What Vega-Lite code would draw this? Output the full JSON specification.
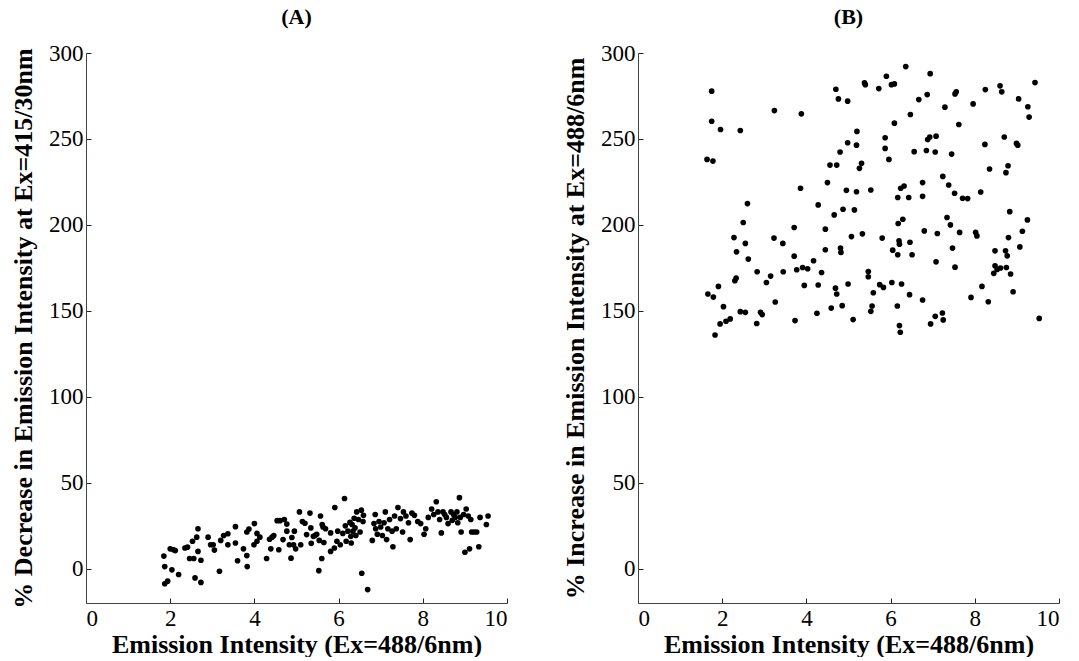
{
  "$schema": "https://vega.github.io/schema/vega-lite/v6.json",
  "padding": {"left": 10, "top": 6, "right": 5, "bottom": 0},
  "background": "white",
  "spacing": 54,
  "datasets": {
    "A": [
      {"x":1.85,"y":7.3},{"x":1.87,"y":1.2},{"x":1.87,"y":-8.8},{"x":1.94,"y":-7.3},{"x":2.0,"y":11.5},{"x":2.04,"y":-0.7},{"x":2.08,"y":11},{"x":2.12,"y":10.5},{"x":2.2,"y":-3.4},{"x":2.35,"y":12},
      {"x":2.41,"y":12.5},{"x":2.46,"y":5.9},{"x":2.53,"y":15.9},{"x":2.56,"y":5.9},{"x":2.59,"y":-5.4},{"x":2.63,"y":18.3},{"x":2.66,"y":23.2},{"x":2.66,"y":10},{"x":2.73,"y":4.9},{"x":2.73,"y":-8},
      {"x":2.9,"y":18.3},{"x":2.96,"y":13.9},{"x":3.02,"y":13.9},{"x":3.05,"y":10.8},{"x":3.17,"y":-1.5},{"x":3.2,"y":16.4},{"x":3.27,"y":19.3},{"x":3.37,"y":20.3},{"x":3.37,"y":13.9},{"x":3.55,"y":24.4},
      {"x":3.55,"y":14.9},{"x":3.6,"y":4.6},{"x":3.74,"y":11.5},{"x":3.82,"y":7.6},{"x":3.83,"y":1.2},{"x":3.82,"y":21.3},{"x":3.87,"y":23},{"x":3.99,"y":13.9},{"x":4.0,"y":26.2},{"x":4.06,"y":20.5},
      {"x":4.06,"y":15.9},{"x":4.13,"y":18.3},{"x":4.29,"y":5.9},{"x":4.36,"y":17.1},{"x":4.39,"y":11.5},{"x":4.42,"y":18.3},{"x":4.46,"y":19.3},{"x":4.54,"y":27.9},{"x":4.58,"y":11},{"x":4.61,"y":27.9},
      {"x":4.68,"y":16.9},{"x":4.71,"y":28.6},{"x":4.77,"y":25.9},{"x":4.77,"y":21.8},{"x":4.83,"y":13.9},{"x":4.87,"y":6.1},{"x":4.89,"y":18.1},{"x":4.95,"y":21.8},{"x":4.98,"y":11.5},{"x":4.93,"y":13.9},
      {"x":5.07,"y":33},{"x":5.1,"y":13.9},{"x":5.14,"y":27.4},{"x":5.2,"y":26.4},{"x":5.24,"y":19.8},{"x":5.34,"y":23.7},{"x":5.32,"y":32.3},{"x":5.35,"y":14.7},{"x":5.4,"y":18.8},{"x":5.44,"y":19.3},
      {"x":5.48,"y":20},{"x":5.53,"y":-1.2},{"x":5.54,"y":16.4},{"x":5.57,"y":30.6},{"x":5.61,"y":25.7},{"x":5.6,"y":5.9},{"x":5.63,"y":24.2},{"x":5.65,"y":15.2},{"x":5.69,"y":23.2},{"x":5.81,"y":20.8},
      {"x":5.81,"y":10},{"x":5.9,"y":12},{"x":5.91,"y":35.5},{"x":5.96,"y":15.9},{"x":5.98,"y":21.8},{"x":6.04,"y":13.9},{"x":6.14,"y":40.8},{"x":6.1,"y":20.5},{"x":6.16,"y":24.9},{"x":6.18,"y":15.9},
      {"x":6.22,"y":21.8},{"x":6.27,"y":26.9},{"x":6.29,"y":18.8},{"x":6.3,"y":14.9},{"x":6.32,"y":25.7},{"x":6.34,"y":21.8},{"x":6.37,"y":29.3},{"x":6.39,"y":23.7},{"x":6.41,"y":19.3},{"x":6.43,"y":33},
      {"x":6.47,"y":28.6},{"x":6.51,"y":21.3},{"x":6.54,"y":34},{"x":6.55,"y":-2.7},{"x":6.58,"y":27.4},{"x":6.59,"y":31},{"x":6.69,"y":-12.2},{"x":6.8,"y":16.4},{"x":6.84,"y":26.2},{"x":6.87,"y":31.5},
      {"x":6.88,"y":23.2},{"x":6.92,"y":20},{"x":6.96,"y":27.4},{"x":7.0,"y":24.2},{"x":7.04,"y":19.3},{"x":7.08,"y":26.7},{"x":7.11,"y":33},{"x":7.14,"y":16.9},{"x":7.17,"y":23.2},{"x":7.21,"y":28.6},
      {"x":7.27,"y":21.8},{"x":7.29,"y":12.7},{"x":7.33,"y":30.6},{"x":7.37,"y":23.2},{"x":7.41,"y":35.5},{"x":7.47,"y":29.1},{"x":7.52,"y":21.3},{"x":7.54,"y":33},{"x":7.6,"y":30.6},{"x":7.66,"y":26.7},
      {"x":7.7,"y":16.9},{"x":7.74,"y":32.3},{"x":7.8,"y":31},{"x":7.88,"y":27.4},{"x":7.95,"y":26.2},{"x":8.03,"y":20},{"x":8.07,"y":23.2},{"x":8.13,"y":29.8},{"x":8.21,"y":34.7},{"x":8.26,"y":31.5},
      {"x":8.32,"y":38.9},{"x":8.36,"y":33},{"x":8.4,"y":28.6},{"x":8.44,"y":20.8},{"x":8.48,"y":33},{"x":8.52,"y":31.5},{"x":8.56,"y":29.8},{"x":8.6,"y":26.2},{"x":8.67,"y":33},{"x":8.7,"y":28.1},
      {"x":8.73,"y":31.5},{"x":8.77,"y":29.8},{"x":8.81,"y":33},{"x":8.83,"y":26.7},{"x":8.87,"y":41.3},{"x":8.89,"y":29.8},{"x":8.91,"y":21.3},{"x":8.97,"y":31.5},{"x":9.0,"y":9.5},{"x":9.03,"y":34.7},
      {"x":9.08,"y":30.6},{"x":9.11,"y":11.5},{"x":9.14,"y":28.6},{"x":9.16,"y":21.3},{"x":9.22,"y":21.3},{"x":9.28,"y":21.3},{"x":9.33,"y":12.7},{"x":9.36,"y":29.8},{"x":9.51,"y":25.7},{"x":9.55,"y":30.6}
    ],
    "B": [
      {"x":1.75,"y":277.8},{"x":1.75,"y":260.3},{"x":1.96,"y":255.5},{"x":2.43,"y":254.9},{"x":3.24,"y":266.5},{"x":3.88,"y":264.6},{"x":1.64,"y":238.1},{"x":1.78,"y":237.1},{"x":2.6,"y":212.4},{"x":3.86,"y":221.3},
      {"x":2.5,"y":201.4},{"x":2.28,"y":192.6},{"x":2.55,"y":189.2},{"x":2.34,"y":184.3},{"x":2.62,"y":180.1},{"x":2.83,"y":172.7},{"x":3.15,"y":170.2},{"x":3.05,"y":166.5},{"x":2.3,"y":167.5},{"x":2.33,"y":169},
      {"x":1.91,"y":164.2},{"x":1.66,"y":159.8},{"x":1.79,"y":158},{"x":2.03,"y":152.4},{"x":2.43,"y":149.5},{"x":2.55,"y":149.1},{"x":1.95,"y":142.4},{"x":2.09,"y":143.9},{"x":2.19,"y":145.3},{"x":2.82,"y":142.6},
      {"x":2.91,"y":149.1},{"x":2.95,"y":147.8},{"x":3.26,"y":155.1},{"x":3.23,"y":192.3},{"x":3.44,"y":189.2},{"x":3.71,"y":198.5},{"x":3.71,"y":181.8},{"x":3.45,"y":172.7},{"x":3.77,"y":173.9},{"x":3.91,"y":175.2},
      {"x":4.03,"y":174.5},{"x":4.17,"y":179.1},{"x":4.36,"y":172.3},{"x":3.95,"y":164.8},{"x":3.73,"y":144.3},{"x":4.28,"y":165},{"x":4.25,"y":148.6},{"x":4.59,"y":151.6},{"x":4.69,"y":163.2},{"x":4.72,"y":159.8},
      {"x":4.85,"y":153},{"x":4.99,"y":165.6},{"x":5.11,"y":144.9},{"x":4.45,"y":185.5},{"x":4.81,"y":186.5},{"x":4.82,"y":184},{"x":4.45,"y":197.5},{"x":4.66,"y":205.8},{"x":4.87,"y":209.1},{"x":5.14,"y":208.7},
      {"x":5.07,"y":193.2},{"x":5.33,"y":194.8},{"x":4.28,"y":211.6},{"x":4.5,"y":224.6},{"x":4.56,"y":234.8},{"x":4.72,"y":234.8},{"x":4.8,"y":242.4},{"x":4.98,"y":247.8},{"x":5.19,"y":246.4},{"x":5.2,"y":254.4},
      {"x":4.7,"y":278.9},{"x":4.76,"y":273.3},{"x":4.98,"y":272},{"x":5.38,"y":282.6},{"x":5.4,"y":281.6},{"x":5.72,"y":279.3},{"x":5.9,"y":286.5},{"x":6.02,"y":281.6},{"x":6.09,"y":282},{"x":6.36,"y":292.1},
      {"x":6.94,"y":288},{"x":6.87,"y":275.8},{"x":6.67,"y":272.9},{"x":6.47,"y":264.2},{"x":6.09,"y":259.2},{"x":5.87,"y":250.7},{"x":5.87,"y":244.5},{"x":5.96,"y":238.1},{"x":5.31,"y":235.8},{"x":5.26,"y":232.9},
      {"x":5.19,"y":219.3},{"x":4.95,"y":220.1},{"x":5.53,"y":220.3},{"x":5.8,"y":192.3},{"x":6.05,"y":185.3},{"x":6.17,"y":182.6},{"x":6.2,"y":190.7},{"x":6.21,"y":188.8},{"x":6.46,"y":189.9},{"x":6.51,"y":182.6},
      {"x":6.18,"y":200.8},{"x":6.29,"y":203.3},{"x":6.17,"y":215.9},{"x":6.24,"y":221.3},{"x":6.32,"y":222.6},{"x":6.43,"y":215.9},{"x":6.56,"y":242.6},{"x":6.76,"y":224.6},{"x":6.76,"y":216.6},{"x":6.85,"y":243.3},
      {"x":6.88,"y":249.7},{"x":6.93,"y":251.1},{"x":7.08,"y":251.6},{"x":7.06,"y":242.4},{"x":7.29,"y":268.5},{"x":7.45,"y":241.2},{"x":7.24,"y":228.2},{"x":7.38,"y":223.2},{"x":7.52,"y":218.4},{"x":7.71,"y":215.5},
      {"x":7.83,"y":215.3},{"x":7.56,"y":277.4},{"x":7.53,"y":276.2},{"x":7.62,"y":258.4},{"x":7.96,"y":270.4},{"x":8.14,"y":219.1},{"x":8.25,"y":278.7},{"x":8.24,"y":246.8},{"x":8.35,"y":232.5},{"x":8.6,"y":280.9},
      {"x":8.64,"y":277.4},{"x":8.7,"y":251.1},{"x":8.79,"y":234.4},{"x":8.74,"y":230.4},{"x":8.99,"y":247.4},{"x":9.02,"y":246.4},{"x":9.04,"y":273.3},{"x":9.26,"y":268.7},{"x":9.29,"y":262.7},{"x":9.43,"y":282.8},
      {"x":8.83,"y":207.7},{"x":9.25,"y":202.9},{"x":9.13,"y":196.3},{"x":9.07,"y":187.2},{"x":8.8,"y":192.6},{"x":8.73,"y":184.9},{"x":8.77,"y":182},{"x":8.48,"y":184.9},{"x":8.48,"y":176.2},{"x":8.53,"y":174.1},
      {"x":8.45,"y":171.8},{"x":8.61,"y":174.9},{"x":8.75,"y":175.2},{"x":8.85,"y":171.4},{"x":8.91,"y":161.1},{"x":8.32,"y":155.3},{"x":8.17,"y":164.2},{"x":7.91,"y":157.8},{"x":8.02,"y":195.6},{"x":8.05,"y":193.6},
      {"x":7.64,"y":195.6},{"x":7.42,"y":200},{"x":7.34,"y":204.3},{"x":7.47,"y":186.5},{"x":7.53,"y":175.4},{"x":7.11,"y":195},{"x":6.8,"y":196.5},{"x":7.08,"y":178.5},{"x":6.76,"y":156.3},{"x":6.45,"y":159.4},
      {"x":6.26,"y":165.6},{"x":6.03,"y":166.5},{"x":6.16,"y":152.8},{"x":6.21,"y":141.4},{"x":5.83,"y":163.6},{"x":5.74,"y":165.2},{"x":5.59,"y":160.5},{"x":5.47,"y":172.9},{"x":5.47,"y":169.8},{"x":5.56,"y":152.8},
      {"x":5.53,"y":149.7},{"x":6.95,"y":142.4},{"x":7.06,"y":146.8},{"x":7.23,"y":148.7},{"x":7.25,"y":144.7},{"x":9.53,"y":145.6},{"x":6.23,"y":137.5},{"x":1.83,"y":135.9}
    ]
  },
  "hconcat": [
    {
      "title": {"text": "(A)"},
      "width": 421,
      "height": 550,
      "data": {"name": "A"},
      "mark": {"type": "circle", "size": 32, "color": "black", "opacity": 1},
      "encoding": {
        "x": {"field": "x", "type": "quantitative", "scale": {"domain": [0, 10], "nice": false, "zero": false},
              "axis": {"title": "Emission Intensity (Ex=488/6nm)", "values": [0, 2, 4, 6, 8, 10]}},
        "y": {"field": "y", "type": "quantitative", "scale": {"domain": [-20, 300], "nice": false, "zero": false},
              "axis": {"title": "% Decrease in Emission Intensity at Ex=415/30nm", "values": [0, 50, 100, 150, 200, 250, 300]}}
      }
    },
    {
      "title": {"text": "(B)"},
      "width": 421,
      "height": 550,
      "data": {"name": "B"},
      "mark": {"type": "circle", "size": 32, "color": "black", "opacity": 1},
      "encoding": {
        "x": {"field": "x", "type": "quantitative", "scale": {"domain": [0, 10], "nice": false, "zero": false},
              "axis": {"title": "Emission Intensity (Ex=488/6nm)", "values": [0, 2, 4, 6, 8, 10]}},
        "y": {"field": "y", "type": "quantitative", "scale": {"domain": [-20, 300], "nice": false, "zero": false},
              "axis": {"title": "% Increase in Emission Intensity at Ex=488/6nm", "values": [0, 50, 100, 150, 200, 250, 300]}}
      }
    }
  ],
  "config": {
    "view": {"stroke": null},
    "font": "Liberation Serif",
    "title": {"font": "Liberation Serif", "fontSize": 22, "fontWeight": "bold", "color": "black", "anchor": "middle", "offset": 13},
    "axis": {
      "grid": false,
      "domainColor": "#444",
      "domainWidth": 1,
      "tickColor": "#222",
      "tickSize": -5,
      "labelFont": "Liberation Serif",
      "labelFontSize": 23,
      "labelColor": "black",
      "labelPadding": 8,
      "titleFont": "Liberation Serif",
      "titleFontWeight": "bold",
      "titleColor": "black"
    },
    "axisX": {"labelPadding": 9, "titlePadding": 1, "titleFontSize": 26},
    "axisY": {"titlePadding": 12, "titleFontSize": 26}
  }
}
